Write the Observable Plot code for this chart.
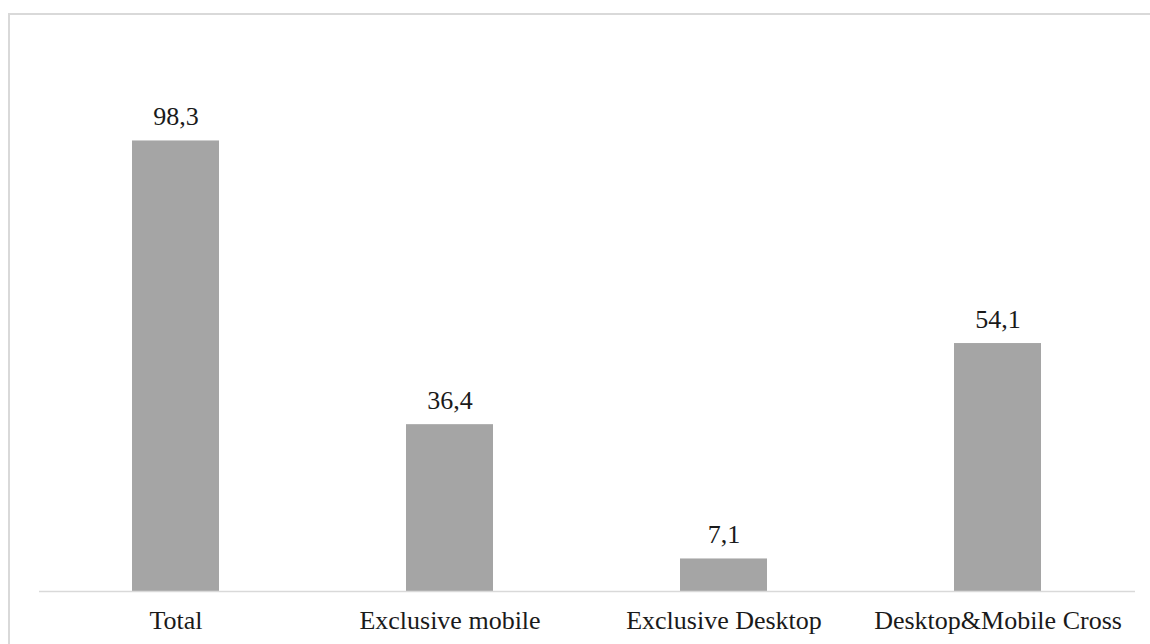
<!DOCTYPE html>
<html>
<head>
<meta charset="utf-8">
<script src="https://cdn.jsdelivr.net/npm/d3@7"></script>
<script src="https://cdn.jsdelivr.net/npm/@observablehq/plot@0.6"></script>
<style>
  html, body { margin: 0; padding: 0; background: #fff; overflow: hidden; }
  #wrap { position: relative; width: 1150px; height: 644px; overflow: hidden; }
  #border { position: absolute; left: 8px; top: 13px; width: 1200px; height: 700px; border: 2px solid #d9d9d9; box-sizing: border-box; }
  #chart { position: absolute; left: 0; top: 0; }
</style>
</head>
<body>
<div id="wrap"><div id="border"></div><div id="chart"></div></div>
<script>
const categories = ["Total", "Exclusive mobile", "Exclusive Desktop", "Desktop&Mobile Cross"];
const values = [98.3, 36.4, 7.1, 54.1];

const data = categories.map((c, i) => ({category: c, value: values[i]}));
const fmt = v => v.toFixed(1).replace(".", ",");

const chart = Plot.plot({
  width: 1150,
  height: 644,
  marginLeft: 39,
  marginRight: 15,
  marginTop: 41,
  marginBottom: 53,
  style: {fontFamily: "'Liberation Serif', 'Times New Roman', serif", fontSize: "26px", color: "#1a1a1a", background: "transparent", overflow: "visible"},
  x: {domain: categories, paddingInner: 0.682, paddingOuter: 0.341, label: null},
  y: {domain: [0, 120], axis: null},
  marks: [
    Plot.barY(data, {x: "category", y: "value", fill: "#a5a5a5"}),
    Plot.ruleY([0], {stroke: "#d9d9d9", strokeWidth: 1.5}),
    Plot.text(data, {x: "category", y: "value", text: d => fmt(d.value), dy: -16, lineAnchor: "bottom", fill: "#1a1a1a", fontSize: 26}),
    Plot.axisX({tickSize: 0, tickPadding: 19, fontSize: 26, fill: "#1a1a1a"})
  ]
});
document.getElementById("chart").appendChild(chart);
</script>
</body>
</html>
